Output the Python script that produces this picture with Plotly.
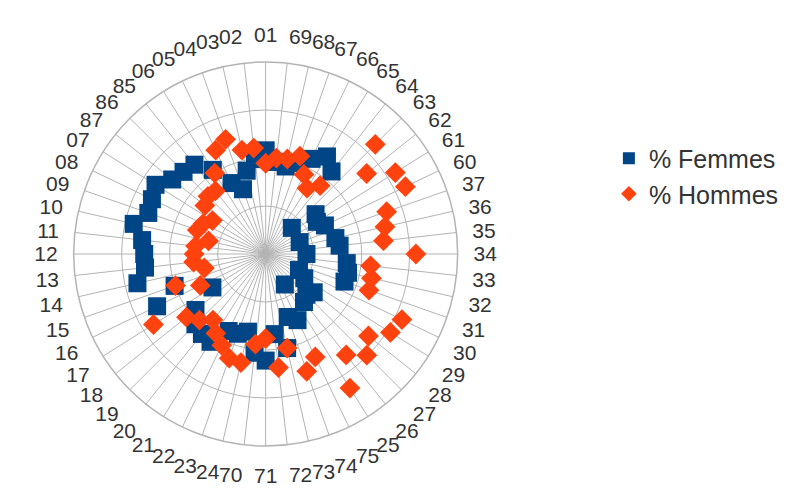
import plotly.graph_objects as go

# Categories (natural order, drawn counterclockwise from the top)
categories = ["01", "02", "03", "04", "05", "06", "85", "86", "87", "07", "08", "09",
              "10", "11", "12", "13", "14", "15", "16", "17", "18", "19", "20", "21",
              "22", "23", "24", "70", "71", "72", "73", "74", "75", "25", "26", "27",
              "28", "29", "30", "31", "32", "33", "34", "35", "36", "37", "60", "61",
              "62", "63", "64", "65", "66", "67", "68", "69"]

femmes = [21.6, 19.9, 17.8, 14.3, 16.4, 20.7, 23.8, 24.2, 24.9, 27.1, 26.3, 25.9,
          28.2, 25.9, 25.3, 25.3, 27.4, 20.1, 25.1, 13.1, 18.7, 20.7, 21.3, 21.6,
          17.8, 17.6, 16.6, 20.7, 22.2, 16.8, 20.1, 13.9, 15.3, 7.5, 12.8, 12.0,
          12.8, 9.5, 7.7, 17.4, 17.6, 17.0, 8.5, 15.5, 14.9, 7.5, 13.7, 12.6,
          13.3, 7.7, 22.0, 24.0, 22.0, 20.1, 18.7, 19.3]

hommes = [18.9, 22.2, 22.2, 25.3, 24.0, 19.9, 16.8, 17.0, 16.2, 13.1, 14.5, 15.1,
          12.2, 14.7, 14.9, 15.1, 13.1, 19.9, 15.1, 27.6, 21.1, 19.5, 17.6, 19.5,
          21.1, 23.0, 23.2, 18.9, 17.6, 23.8, 20.1, 25.9, 23.8, 33.0, 26.9, 29.8,
          27.4, 30.7, 31.5, 22.8, 22.6, 22.0, 31.3, 24.7, 25.5, 26.7, 32.3, 31.9,
          26.9, 32.3, 18.2, 16.2, 18.4, 21.6, 20.3, 20.1]

series_names = ["% Femmes", "% Hommes"]
radial_max = 40
radial_step = 10

fig = go.Figure()
fig.add_trace(go.Scatterpolar(
    r=femmes, theta=categories, name=series_names[0], mode="markers",
    marker=dict(symbol="square", size=18, color="#004586"),
))
fig.add_trace(go.Scatterpolar(
    r=hommes, theta=categories, name=series_names[1], mode="markers",
    marker=dict(symbol="diamond", size=16, color="#ff420e"),
))

# page body has an 8px margin, so the figure is sized/placed to compensate
off = 8
W, H = 792 - 2 * off, 494 - 2 * off
cx, cy, rad = 267 - off, 254 - off, 193
fig.update_layout(
    width=W, height=H,
    margin=dict(l=0, r=0, t=0, b=0),
    paper_bgcolor="white",
    font=dict(family="Liberation Sans, Arial, sans-serif", color="#333333"),
    polar=dict(
        domain=dict(x=[(cx - rad) / W, (cx + rad) / W],
                    y=[1 - (cy + rad) / H, 1 - (cy - rad) / H]),
        bgcolor="white",
        angularaxis=dict(
            direction="counterclockwise", rotation=90,
            categoryorder="array", categoryarray=categories,
            showgrid=True, gridcolor="#b3b3b3", gridwidth=1,
            showline=True, linecolor="#b3b3b3", linewidth=1.5,
            ticks="outside", ticklen=11, tickcolor="rgba(0,0,0,0)",
            tickfont=dict(size=21, color="#333333"),
        ),
        radialaxis=dict(
            range=[0, radial_max], dtick=radial_step,
            showgrid=True, gridcolor="#b3b3b3", gridwidth=1,
            showline=False, showticklabels=False, ticks="",
        ),
    ),
    legend=dict(
        x=(612 - off) / W, y=1 - (176 - off) / H, xanchor="left", yanchor="middle",
        font=dict(size=25, color="#333333"),
        itemsizing="constant", tracegroupgap=0,
        bgcolor="rgba(0,0,0,0)",
    ),
)

fig.write_html("out.html")
